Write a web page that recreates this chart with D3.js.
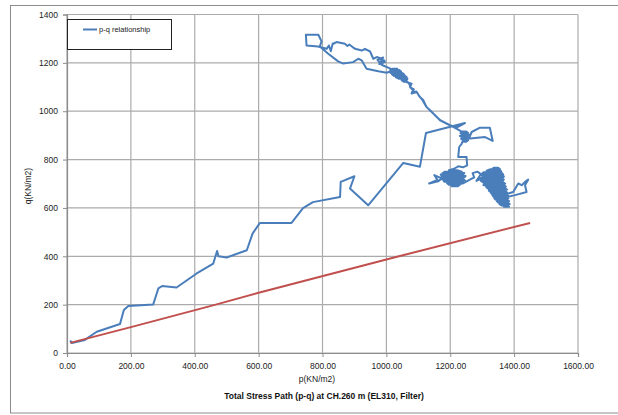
<!DOCTYPE html>
<html>
<head>
<meta charset="utf-8">
<title>Total Stress Path</title>
<script src="https://d3js.org/d3.v7.min.js"></script>
<style>
  body { margin: 0; background: #fff; }
  svg { display: block; font-family: "Liberation Sans", Arial, sans-serif; }
</style>
</head>
<body>
<svg width="618" height="415"></svg>
<script>
// axis ticks
var pTicks = [0, 200, 400, 600, 800, 1000, 1200, 1400, 1600];
var qTicks = [0, 200, 400, 600, 800, 1000, 1200, 1400];

// blue series, p-q relationship in pieces
var pathLower = [[10,52],[15,41],[56,54],[93,88],[166,120],[178,178],[192,194],[270,201],[286,267],[298,277],
  [343,271],[406,329],[458,370],[470,422],[474,400],[500,395],[563,425],[581,494],[604,538],[703,538],
  [739,599],[770,624],[855,645],[857,708],[900,731],[886,680],[943,611],[1053,786],[1105,770],[1124,910]];

var pathUp = [[1246,951],[1221,933],[1199,942],[1168,962],[1158,976],[1142,997],[1126,1017],[1116,1045],
  [1105,1059],[1095,1079],[1079,1073],[1084,1086],[1074,1100],[1079,1114],[1064,1120]];

var clusterTop = [[1066,1122],[1054,1122],[1048,1128],[1062,1128],[1066,1134],[1040,1134],[1030,1140],[1064,1140],
  [1058,1146],[1024,1146],[1018,1152],[1056,1152],[1050,1158],[1014,1158],[1010,1164],[1046,1164],[1040,1170],
  [1012,1170],[1020,1176],[1034,1176]];

var pathTop = [[1001,1159],[975,1165],[938,1176],[923,1210],[912,1217],[896,1203],[865,1197],[849,1206],[818,1238],
  [798,1260],[792,1269],[797,1289],[787,1316],[748,1316],[750,1272],[786,1268],[813,1258],[820,1272],[826,1248],
  [832,1280],[834,1279],[844,1286],[870,1279],[878,1270],[884,1276],[891,1269],[902,1258],[923,1251],[933,1258],
  [949,1247],[959,1217],[970,1224],[985,1217],[996,1203],[980,1200],[972,1212],[990,1222],[978,1195],[994,1210],
  [985,1192],[1018,1173]];

var pathDown = [[1040,1160],[1060,1132],[1072,1112],[1076,1098],[1086,1090],[1080,1078],[1094,1082],[1102,1064],
  [1112,1048],[1124,1020],[1140,1000],[1156,978],[1170,962],[1199,942]];

var pathMiddle = [[1236,916],[1250,916],[1256,910],[1232,910],[1236,904],[1258,904],[1254,898],[1230,898],
  [1238,892],[1260,892],[1267,914],[1293,932],[1324,932],[1333,877],[1309,893],[1262,887],[1252,886],[1234,886],
  [1240,880],[1256,880],[1250,874],[1238,874],[1236,866],[1228,852],[1225,811],[1251,811],[1253,776]];

var clusterLeft = [[1240,768],[1225,772],[1212,762],[1196,756],[1222,756],[1236,750],[1184,750],[1176,744],
  [1244,744],[1240,738],[1170,738],[1174,732],[1248,732],[1244,726],[1166,726],[1150,736],[1160,716],[1134,701],
  [1162,710],[1172,720],[1238,720],[1246,714],[1178,714],[1182,708],[1240,708],[1236,702],[1190,702],[1196,696],
  [1230,696],[1224,690],[1204,690],[1240,702],[1260,716],[1275,726],[1270,744],[1285,750],[1296,740],[1290,728],
  [1282,712],[1300,722]];

var clusterRight = [[1336,766],[1350,766],[1356,760],[1326,760],[1314,754],[1358,754],[1360,748],[1304,748],
  [1300,742],[1364,742],[1366,736],[1296,736],[1302,730],[1368,730],[1364,724],[1292,724],[1298,718],[1368,718],
  [1364,712],[1296,712],[1302,706],[1366,706],[1372,700],[1306,700],[1304,694],[1368,694],[1374,688],[1312,688],
  [1316,682],[1370,682],[1378,676],[1320,676],[1322,670],[1372,670],[1378,664],[1326,664],[1330,658],[1374,658],
  [1380,652],[1332,652],[1336,646],[1376,646],[1382,640],[1338,640],[1342,634],[1378,634],[1384,628],[1346,628],
  [1350,622],[1380,622],[1386,616],[1354,616],[1362,610],[1382,610],[1384,605],[1368,605]];

var pathTail = [[1366,653],[1397,666],[1413,701],[1424,694],[1434,708],[1444,717],[1434,694],[1439,666],
  [1403,653],[1371,643]];

// red series
var lineP = [10, 200, 460, 600, 1000, 1450];
var lineQ = [42, 107, 198, 249, 387, 538];

var pqPath = [].concat(pathLower, pathUp, clusterTop, pathTop, pathDown, pathMiddle, clusterLeft, clusterRight, pathTail);

var svg = d3.select("svg");

var x = d3.scaleLinear().domain([0, 1600]).range([67, 578]);
var y = d3.scaleLinear().domain([0, 1400]).range([353, 14.5]);

// outer chart border
svg.append("rect")
  .attr("x", 10.5).attr("y", 5.5)
  .attr("width", 640).attr("height", 407.5)
  .attr("fill", "none").attr("stroke", "#8c8c8c").attr("stroke-width", 1);

// gridlines
svg.append("g").selectAll("line").data(pTicks).join("line")
  .attr("x1", d => x(d)).attr("x2", d => x(d))
  .attr("y1", y(1400)).attr("y2", y(0))
  .attr("stroke", "#ababab").attr("stroke-width", 1.2);
svg.append("g").selectAll("line").data(qTicks).join("line")
  .attr("x1", x(0)).attr("x2", x(1600))
  .attr("y1", d => y(d)).attr("y2", d => y(d))
  .attr("stroke", "#ababab").attr("stroke-width", 1.2);

// axes
var xAxis = svg.append("g").attr("transform", "translate(0," + y(0) + ")")
  .call(d3.axisBottom(x).tickValues(pTicks).tickFormat(d3.format(".2f")).tickSize(4).tickPadding(6));
var yAxis = svg.append("g").attr("transform", "translate(" + x(0) + ",0)")
  .call(d3.axisLeft(y).tickValues(qTicks).tickFormat(d3.format("d")).tickSize(4).tickPadding(5));

[xAxis, yAxis].forEach(function(a){
  a.select(".domain").attr("stroke", "#8c8c8c").attr("stroke-width", 1.2);
  a.selectAll(".tick line").attr("stroke", "#8c8c8c");
  a.selectAll(".tick text").attr("fill", "#222").style("font-size", "8.5px")
    .style("font-family", "'Liberation Sans', Arial, sans-serif");
});

// series
var line = d3.line().x(d => x(d[0])).y(d => y(d[1]));

svg.append("path")
  .datum(pqPath)
  .attr("d", line)
  .attr("fill", "none")
  .attr("stroke", "#4a7ebb")
  .attr("stroke-width", 2)
  .attr("stroke-linejoin", "round");

svg.append("path")
  .datum(lineP.map((p, i) => [p, lineQ[i]]))
  .attr("d", line)
  .attr("fill", "none")
  .attr("stroke", "#c0504d")
  .attr("stroke-width", 2);

// legend
var legend = svg.append("g");
legend.append("rect")
  .attr("x", 67.5).attr("y", 19.5).attr("width", 104).attr("height", 30)
  .attr("fill", "#fff").attr("stroke", "#222").attr("stroke-width", 1);
legend.append("line")
  .attr("x1", 83).attr("x2", 97).attr("y1", 29.5).attr("y2", 29.5)
  .attr("stroke", "#4a7ebb").attr("stroke-width", 2);
legend.append("text")
  .attr("x", 99).attr("y", 32)
  .style("font-size", "7.5px").attr("fill", "#222")
  .text("p-q relationship");

// axis titles
svg.append("text")
  .attr("x", 317).attr("y", 382)
  .attr("text-anchor", "middle")
  .style("font-size", "8.5px").attr("fill", "#222")
  .text("p(KN/m2)");

svg.append("text")
  .attr("transform", "translate(31,186) rotate(-90)")
  .attr("text-anchor", "middle")
  .style("font-size", "8.5px").attr("fill", "#222")
  .text("q(KN/m2)");

svg.append("text")
  .attr("x", 324).attr("y", 399)
  .attr("text-anchor", "middle")
  .style("font-size", "8.5px").style("font-weight", "bold").attr("fill", "#111")
  .text("Total Stress  Path (p-q) at CH.260 m (EL310, Filter)");
</script>
</body>
</html>
